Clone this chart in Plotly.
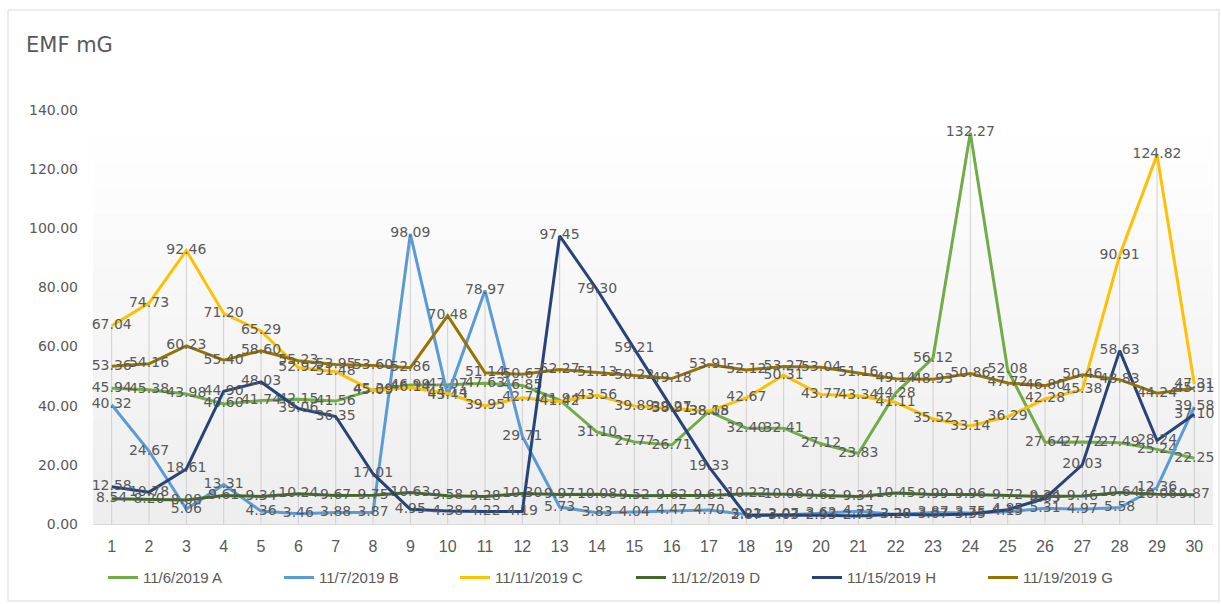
import numpy as np
import plotly.graph_objects as go

# Daily EMF readings (mG), days 1-30, one list per measurement session
days = list(range(1, 31))

a_1106 = [45.94, 45.38, 43.98, 40.60, 41.74, 42.15, 41.56, 45.36, 46.99, 47.07,
          47.63, 46.85, 41.94, 31.10, 27.77, 26.71, 38.05, 32.40, 32.41, 27.12,
          23.83, 44.28, 56.12, 132.27, 52.08, 27.64, 27.72, 27.49, 25.24, 22.25]
b_1107 = [40.32, 24.67, 5.06, 13.31, 4.36, 3.46, 3.88, 3.87, 98.09, 43.43,
          78.97, 29.71, 5.73, 3.83, 4.04, 4.47, 4.70, 3.21, 3.03, 3.62,
          4.27, 3.20, 3.87, 3.75, 4.15, 5.31, 4.97, 5.58, 12.36, 39.58]
c_1111 = [67.04, 74.73, 92.46, 71.20, 65.29, 52.92, 51.48, 45.09, 46.14, 44.14,
          39.95, 42.71, 41.42, 43.56, 39.89, 38.91, 38.18, 42.67, 50.31, 43.77,
          43.34, 41.11, 35.52, 33.14, 36.29, 42.28, 45.38, 90.91, 124.82, 47.31]
d_1112 = [8.54, 8.20, 8.08, 9.61, 9.34, 10.24, 9.67, 9.75, 10.63, 9.58,
          9.28, 10.30, 9.97, 10.08, 9.52, 9.62, 9.61, 10.22, 10.06, 9.62,
          9.34, 10.45, 9.99, 9.96, 9.72, 9.34, 9.46, 10.64, 10.06, 9.87]
h_1115 = [12.58, 10.78, 18.61, 44.90, 48.03, 39.06, 36.35, 17.01, 4.95, 4.38,
          4.22, 4.19, 97.45, 79.30, 59.21, 39.27, 19.33, 2.87, 3.07, 2.93,
          2.73, 3.28, 3.07, 3.35, 4.85, 8.69, 20.03, 58.63, 28.24, 37.10]
g_1119 = [53.36, 54.16, 60.23, 55.40, 58.60, 55.23, 53.95, 53.60, 52.86, 70.48,
          51.14, 50.67, 52.27, 51.13, 50.22, 49.18, 53.91, 52.12, 53.27, 53.04,
          51.16, 49.14, 48.93, 50.86, 47.72, 46.80, 50.46, 48.83, 44.24, 45.91]

series = [
    ("11/6/2019 A", a_1106, "#70AD47"),
    ("11/7/2019 B", b_1107, "#5B9BD5"),
    ("11/11/2019 C", c_1111, "#FFC000"),
    ("11/12/2019 D", d_1112, "#43682B"),
    ("11/15/2019 H", h_1115, "#264478"),
    ("11/19/2019 G", g_1119, "#997300"),
]

y_ticks = [0, 20, 40, 60, 80, 100, 120, 140]
y_tick_text = [f"{v:.2f}" for v in y_ticks]

TEXT_GREY = "#595959"
NUM_FONT = "DejaVu Sans"
NARROW_FONT = "Liberation Sans Narrow, Arial Narrow, Liberation Sans, sans-serif"

fig = go.Figure()

# Drop lines: from the highest reading of each day down to the axis
peak = np.max(np.array([s[1] for s in series]), axis=0)
drop_x, drop_y = [], []
for d, p in zip(days, peak):
    drop_x += [d, d, None]
    drop_y += [0, p, None]
fig.add_trace(go.Scatter(x=drop_x, y=drop_y, mode="lines",
                         line=dict(color="#d0d0d0", width=1),
                         hoverinfo="skip", showlegend=False))

for name, vals, color in series:
    fig.add_trace(go.Scatter(
        x=days, y=vals, name=name, mode="lines+text",
        line=dict(color=color, width=3),
        text=[f"{v:.2f}" for v in vals],
        textposition="middle center",
        textfont=dict(family=NUM_FONT, size=14, color=TEXT_GREY),
        cliponaxis=False,
    ))

# Soft vertical gradient behind the plot area (white at top, light grey at bottom)
n_bands = 16
for i in range(n_bands):
    t = i / (n_bands - 1)
    g = int(round(238 + (255 - 238) * t))
    fig.add_shape(type="rect", xref="paper", yref="paper",
                  x0=0, x1=1, y0=i / n_bands, y1=(i + 1) / n_bands + 0.001,
                  fillcolor=f"rgb({g},{g},{g})", line=dict(width=0),
                  layer="below")

# Outer chart border
L, T, W, H = 93, 110, 1120, 414
fig.add_shape(type="rect", xref="paper", yref="paper",
              x0=(8 - L) / W, x1=(1219 - L) / W,
              y0=(T + H - 601) / H, y1=(T + H - 10) / H,
              line=dict(color="#d9d9d9", width=1), fillcolor="rgba(0,0,0,0)",
              layer="below")

fig.update_layout(
    width=1221, height=604,
    margin=dict(l=L, r=1221 - L - W, t=T, b=604 - T - H),
    paper_bgcolor="white", plot_bgcolor="white",
    showlegend=True,
    legend=dict(orientation="h", x=(103 - L) / W, xanchor="left", y=-0.13, yanchor="middle",
                font=dict(family=NARROW_FONT, size=15, color=TEXT_GREY),
                itemwidth=30, entrywidth=131, entrywidthmode="pixels",
                tracegroupgap=0),
    annotations=[dict(text="EMF mG", xref="paper", yref="paper",
                      x=(24 - L) / W, y=(T + H - 45) / H, xanchor="left", yanchor="middle",
                      showarrow=False,
                      font=dict(family=NUM_FONT, size=21, color=TEXT_GREY))],
)

fig.update_xaxes(
    range=[0.5, 30.5], tickmode="array", tickvals=days, ticktext=[str(d) for d in days],
    showgrid=False, zeroline=False, showline=True, linecolor="#d9d9d9", linewidth=1,
    ticks="", ticklabelstandoff=8,
    tickfont=dict(family=NARROW_FONT, size=16, color=TEXT_GREY),
)
fig.update_yaxes(
    range=[0, 140], tickmode="array", tickvals=y_ticks, ticktext=y_tick_text,
    showgrid=False, zeroline=False, showline=False, ticks="",
    ticklabelstandoff=14,
    tickfont=dict(family=NUM_FONT, size=14, color=TEXT_GREY),
)

fig.write_html("out.html")
